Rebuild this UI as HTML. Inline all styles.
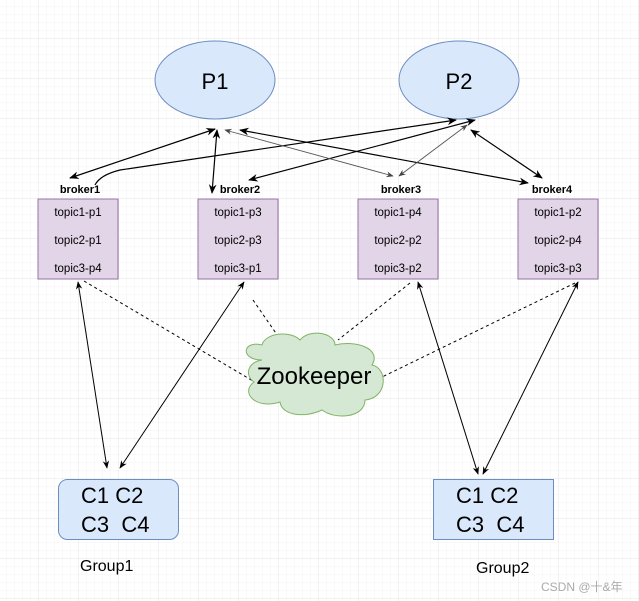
<!DOCTYPE html>
<html><head><meta charset="utf-8"><style>
html,body{margin:0;padding:0;background:#fff;}
svg{display:block;font-family:"Liberation Sans","Noto Sans CJK SC",sans-serif;}
</style></head><body>
<svg width="639" height="601" viewBox="0 0 639 601" xmlns="http://www.w3.org/2000/svg">
<defs>
<pattern id="minor" x="-1" y="-1" width="8" height="8" patternUnits="userSpaceOnUse"><path d="M8 0V8M0 8H8" stroke="#f3f3f3" stroke-width="1" fill="none"/></pattern>
<pattern id="major" x="-1" y="-1" width="40" height="40" patternUnits="userSpaceOnUse"><path d="M40 0V40M0 40H40" stroke="#e6e6e6" stroke-width="1" fill="none"/></pattern>
<marker id="a" viewBox="0 0 10 10" refX="9" refY="5" markerWidth="8" markerHeight="8" orient="auto-start-reverse"><path d="M0 1L10 5L0 9L3 5Z" fill="#000"/></marker>
<marker id="g" viewBox="0 0 10 10" refX="9" refY="5" markerWidth="8" markerHeight="8" orient="auto-start-reverse"><path d="M0 1L10 5L0 9L3 5Z" fill="#444"/></marker>
</defs>
<rect width="639" height="601" fill="url(#minor)"/>
<rect width="639" height="601" fill="url(#major)"/>

<ellipse cx="215" cy="80" rx="60" ry="39" fill="#dae8fc" stroke="#6c8ebf"/>
<text x="215" y="89" font-size="22" text-anchor="middle">P1</text>
<ellipse cx="459" cy="80" rx="60" ry="39" fill="#dae8fc" stroke="#6c8ebf"/>
<text x="459" y="89" font-size="22" text-anchor="middle">P2</text>

<g stroke="#000" stroke-width="1.2" fill="none">
<line x1="70" y1="178" x2="215" y2="129" marker-start="url(#a)" marker-end="url(#a)"/>
<path d="M95 185 Q100 175 120 170 L456 120" marker-end="url(#a)"/>
<line x1="212" y1="193" x2="217" y2="130" marker-start="url(#a)" marker-end="url(#a)"/>
<line x1="249" y1="180" x2="475" y2="120" marker-start="url(#a)" marker-end="url(#a)"/>
<line x1="240" y1="130" x2="528" y2="183" marker-start="url(#a)" marker-end="url(#a)"/>
<line x1="471" y1="130" x2="542" y2="178" marker-start="url(#a)" marker-end="url(#a)"/>
</g>
<g stroke="#555" stroke-width="0.9" fill="none">
<line x1="225" y1="130" x2="393" y2="176" marker-start="url(#g)" marker-end="url(#g)"/>
<line x1="399" y1="176" x2="467" y2="125" marker-start="url(#g)" marker-end="url(#g)"/>
</g>

<g font-size="11" font-weight="bold" text-anchor="middle">
<text x="80" y="193">broker1</text><text x="240" y="193">broker2</text>
<text x="401" y="193">broker3</text><text x="552" y="193">broker4</text>
</g>
<g fill="#e1d5e7" stroke="#9673a6">
<rect x="38" y="199" width="80" height="80"/><rect x="198" y="199" width="80" height="80"/>
<rect x="358" y="199" width="80" height="80"/><rect x="518" y="199" width="80" height="80"/>
</g>
<g font-size="11.5" text-anchor="middle">
<text x="78" y="216">topic1-p1</text><text x="78" y="244">topic2-p1</text><text x="78" y="272">topic3-p4</text>
<text x="238" y="216">topic1-p3</text><text x="238" y="244">topic2-p3</text><text x="238" y="272">topic3-p1</text>
<text x="398" y="216">topic1-p4</text><text x="398" y="244">topic2-p2</text><text x="398" y="272">topic3-p2</text>
<text x="558" y="216">topic1-p2</text><text x="558" y="244">topic2-p4</text><text x="558" y="272">topic3-p3</text>
</g>

<g stroke="#000" stroke-width="1" stroke-dasharray="3,3" fill="none">
<line x1="84" y1="281" x2="253" y2="381"/>
<line x1="253" y1="300" x2="280" y2="339"/>
<line x1="410" y1="283" x2="338" y2="340"/>
<line x1="575" y1="283" x2="380" y2="378"/>
</g>
<g stroke="#000" stroke-width="1" fill="none">
<line x1="78" y1="282" x2="107" y2="468" marker-start="url(#a)" marker-end="url(#a)"/>
<line x1="244" y1="282" x2="120" y2="468" marker-start="url(#a)" marker-end="url(#a)"/>
<line x1="418" y1="282" x2="478" y2="474" marker-start="url(#a)" marker-end="url(#a)"/>
<line x1="578" y1="282" x2="483" y2="474" marker-start="url(#a)" marker-end="url(#a)"/>
</g>

<path d="M262 360 C240 360 242 340 262 345 C265 333 290 330 300 340 C310 328 335 333 335 345 C355 340 382 348 372 365 C388 368 388 398 365 400 C365 418 335 420 322 410 C305 418 282 416 280 402 C255 410 240 392 254 382 C244 375 248 362 262 360 Z" fill="#d5e8d4" stroke="#82b366"/>
<text x="314" y="384" font-size="24" text-anchor="middle">Zookeeper</text>

<rect x="58.5" y="479.5" width="120" height="60" rx="9" fill="#dae8fc" stroke="#6c8ebf"/>
<rect x="433.5" y="479.5" width="120" height="60" fill="#dae8fc" stroke="#6c8ebf"/>
<g font-size="22">
<text x="81" y="503">C1 C2</text><text x="81" y="532" xml:space="preserve">C3  C4</text>
<text x="456" y="503">C1 C2</text><text x="456" y="532" xml:space="preserve">C3  C4</text>
</g>
<text x="80" y="571" font-size="16">Group1</text>
<text x="476" y="573" font-size="16">Group2</text>
<text x="541" y="591" font-size="12" fill="#aaa">CSDN @十&amp;年</text>
</svg>
</body></html>
